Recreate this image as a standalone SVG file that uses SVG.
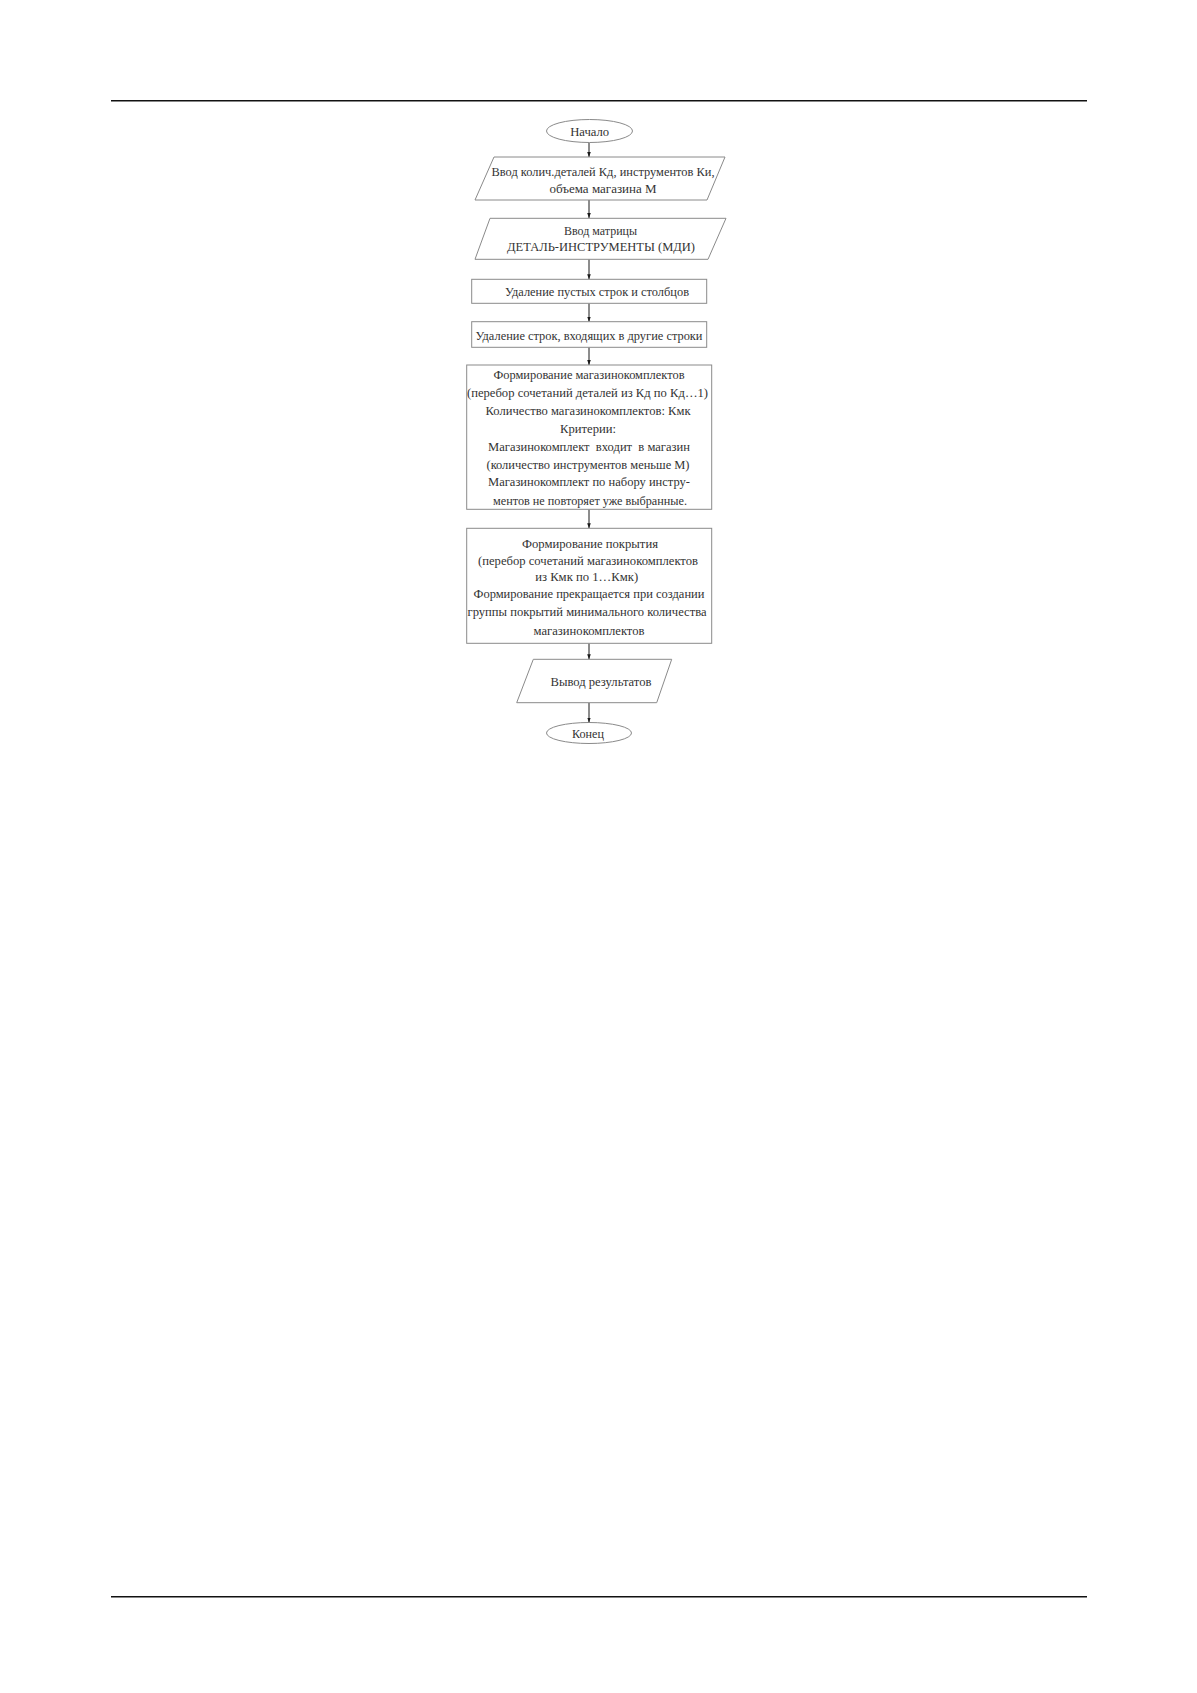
<svg xmlns="http://www.w3.org/2000/svg" width="1197" height="1693" viewBox="0 0 1197 1693">
<defs>
<marker id="ah" markerUnits="userSpaceOnUse" markerWidth="6" markerHeight="8" refX="5" refY="3" orient="auto" viewBox="0 0 6 6">
<path d="M0,1.2 L5,3 L0,4.8 Z" fill="#1a1a1a"/>
</marker>
<style>
.sh{fill:#fff;stroke:#8a8a8a;stroke-width:1}
.t{font-family:"Liberation Serif","Times New Roman",serif;font-size:13px;fill:#333;text-anchor:middle;dominant-baseline:central}
.c{stroke:#1a1a1a;stroke-width:1;fill:none;marker-end:url(#ah)}
.rule{stroke:#111;stroke-width:1.4}
</style>
</defs>
<rect width="1197" height="1693" fill="#fff"/>
<line class="rule" x1="111" y1="100.7" x2="1087" y2="100.7"/>
<line class="rule" x1="111" y1="1596.7" x2="1087" y2="1596.7"/>

<g id="connectors">
<line class="c" x1="589" y1="142.5" x2="589" y2="157"/>
<line class="c" x1="589" y1="200" x2="589" y2="218"/>
<line class="c" x1="589" y1="259.3" x2="589" y2="279.3"/>
<line class="c" x1="589" y1="303.3" x2="589" y2="321.7"/>
<line class="c" x1="589" y1="347.3" x2="589" y2="365"/>
<line class="c" x1="589" y1="509.3" x2="589" y2="528.3"/>
<line class="c" x1="589" y1="643.3" x2="589" y2="659.3"/>
<line class="c" x1="589" y1="702.7" x2="589" y2="722.5"/>
</g>

<g id="start">
<ellipse class="sh" cx="589.5" cy="131" rx="43" ry="11.5"/>
<text class="t" x="589.7" y="131" textLength="39" lengthAdjust="spacingAndGlyphs">Начало</text>
</g>

<g id="input1">
<polygon class="sh" points="494,157 725,157 707,200 475,200"/>
<text class="t" x="603" y="171.7" textLength="223" lengthAdjust="spacingAndGlyphs">Ввод колич.деталей Кд, инструментов Ки,</text>
<text class="t" x="603" y="188.3">объема магазина М</text>
</g>

<g id="input2">
<polygon class="sh" points="490,218.3 726,218.3 708,259.3 475,259.3"/>
<text class="t" x="600.5" y="230" textLength="73" lengthAdjust="spacingAndGlyphs">Ввод матрицы</text>
<text class="t" x="601" y="246.7" textLength="188" lengthAdjust="spacingAndGlyphs">ДЕТАЛЬ-ИНСТРУМЕНТЫ (МДИ)</text>
</g>

<g id="remove-empty">
<rect class="sh" x="471.7" y="279.3" width="235" height="24"/>
<text class="t" x="597" y="291.7" textLength="184" lengthAdjust="spacingAndGlyphs">Удаление пустых строк и столбцов</text>
</g>

<g id="remove-rows">
<rect class="sh" x="471.7" y="321.7" width="235" height="25.6"/>
<text class="t" x="589" y="335" textLength="227" lengthAdjust="spacingAndGlyphs">Удаление строк, входящих в другие строки</text>
</g>

<g id="form-kits">
<rect class="sh" x="466.7" y="365" width="245" height="144.3"/>
<text class="t" x="589" y="374.3" textLength="191" lengthAdjust="spacingAndGlyphs">Формирование магазинокомплектов</text>
<text class="t" x="587.5" y="392.7" textLength="241" lengthAdjust="spacingAndGlyphs">(перебор сочетаний деталей из Кд по Кд…1)</text>
<text class="t" x="588" y="410" textLength="205" lengthAdjust="spacingAndGlyphs">Количество магазинокомплектов: Кмк</text>
<text class="t" x="588" y="428.3" textLength="56" lengthAdjust="spacingAndGlyphs">Критерии:</text>
<text class="t" x="589" y="446" textLength="202" lengthAdjust="spacingAndGlyphs" xml:space="preserve">Магазинокомплект  входит  в магазин</text>
<text class="t" x="588" y="464.3" textLength="203" lengthAdjust="spacingAndGlyphs">(количество инструментов меньше М)</text>
<text class="t" x="589" y="481.7" textLength="202" lengthAdjust="spacingAndGlyphs">Магазинокомплект по набору инстру-</text>
<text class="t" x="590" y="500" textLength="194" lengthAdjust="spacingAndGlyphs">ментов не повторяет уже выбранные.</text>
</g>

<g id="form-cover">
<rect class="sh" x="466.7" y="528.3" width="245" height="115"/>
<text class="t" x="590" y="543.3" textLength="136" lengthAdjust="spacingAndGlyphs">Формирование покрытия</text>
<text class="t" x="588" y="560" textLength="220" lengthAdjust="spacingAndGlyphs">(перебор сочетаний магазинокомплектов</text>
<text class="t" x="586.7" y="576" textLength="103" lengthAdjust="spacingAndGlyphs">из Кмк по 1…Кмк)</text>
<text class="t" x="589" y="593.3" textLength="231" lengthAdjust="spacingAndGlyphs">Формирование прекращается при создании</text>
<text class="t" x="587" y="611.7" textLength="239" lengthAdjust="spacingAndGlyphs">группы покрытий минимального количества</text>
<text class="t" x="589" y="630" textLength="111" lengthAdjust="spacingAndGlyphs">магазинокомплектов</text>
</g>

<g id="output">
<polygon class="sh" points="533.3,659.3 671.7,659.3 656.7,702.7 516.7,702.7"/>
<text class="t" x="601" y="681.7" textLength="101" lengthAdjust="spacingAndGlyphs">Вывод результатов</text>
</g>

<g id="end">
<ellipse class="sh" cx="589" cy="733" rx="42.5" ry="10.5"/>
<text class="t" x="588" y="733" textLength="32" lengthAdjust="spacingAndGlyphs">Конец</text>
</g>
</svg>
